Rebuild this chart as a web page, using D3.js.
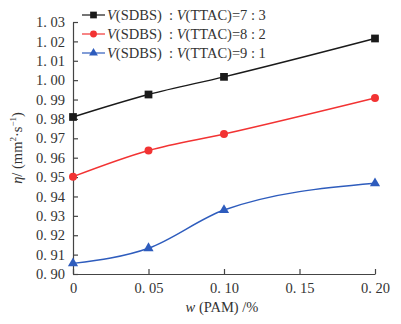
<!DOCTYPE html>
<html><head><meta charset="utf-8">
<script src="https://cdn.jsdelivr.net/npm/d3@7"></script>
<style>body{margin:0;background:#fff}svg{display:block}text{font-family:"Liberation Serif","DejaVu Serif",serif;fill:#333}</style>
</head><body><div id="c"></div>
<script>
const xValues = [0, 0.05, 0.10, 0.20];
const seriesNames = ["7\u00a0:\u00a03", "8\u00a0:\u00a02", "9\u00a0:\u00a01"];
const blackValues = [0.981, 0.9926, 1.0017, 1.0215];
const redValues = [0.9502, 0.9637, 0.9722, 0.9908];
const blueValues = [0.9055, 0.9133, 0.9330, 0.9468];
const xTicks = [0, 0.05, 0.10, 0.15, 0.20];
const xTickLabels = ["0", "0. 05", "0. 10", "0. 15", "0. 20"];
const yTicks = [0.90,0.91,0.92,0.93,0.94,0.95,0.96,0.97,0.98,0.99,1.00,1.01,1.02,1.03];
const yTickLabels = ["0. 90","0. 91","0. 92","0. 93","0. 94","0. 95","0. 96","0. 97","0. 98","0. 99","1. 00","1. 01","1. 02","1. 03"];

const W = 401, H = 324;
const m = {l: 73, r: 26, t: 22, b: 50};
const svg = d3.select("#c").append("svg").attr("width", W).attr("height", H);
const x = d3.scaleLinear().domain([0, 0.20]).range([m.l, W - m.r]);
const y = d3.scaleLinear().domain([0.90, 1.03]).range([H - m.b, m.t]);

const series = [
  {vals: blackValues, color: "#1a1a1a", shape: d3.symbolSquare, size: 60},
  {vals: redValues, color: "#f23333", shape: d3.symbolCircle, size: 50},
  {vals: blueValues, color: "#2e5cbd", shape: d3.symbolTriangle, size: 45}
];

// axes
const xAxis = d3.axisBottom(x).tickValues(xTicks).tickFormat((d,i)=>xTickLabels[i]).tickSizeInner(-5).tickSizeOuter(0).tickPadding(9);
const yAxis = d3.axisLeft(y).tickValues(yTicks).tickFormat((d,i)=>yTickLabels[i]).tickSizeInner(-5).tickSizeOuter(0).tickPadding(8);
const gx = svg.append("g").attr("transform", `translate(0,${H - m.b})`).call(xAxis);
const gy = svg.append("g").attr("transform", `translate(${m.l},0)`).call(yAxis);
[gx, gy].forEach(g => {
  g.selectAll("path,line").attr("stroke", "#444").attr("stroke-width", 1.2);
  g.selectAll("text").attr("font-size", 14.5).attr("fill", "#333").attr("font-family", '"Liberation Serif",serif');
});

const line = d3.line().x((d,i)=>x(xValues[i])).y(d=>y(d)).curve(d3.curveMonotoneX);
series.forEach(s => {
  svg.append("path").attr("d", line(s.vals)).attr("fill","none").attr("stroke", s.color).attr("stroke-width", 1.4);
  svg.selectAll(null).data(s.vals).enter().append("path")
    .attr("d", d3.symbol().type(s.shape).size(s.size))
    .attr("transform", (d,i)=>`translate(${x(xValues[i])},${y(d)})`)
    .attr("fill", s.color);
});

// legend
const lg = svg.append("g");
series.forEach((s, i) => {
  const yy = 15 + i * 19;
  lg.append("line").attr("x1", 82).attr("x2", 105).attr("y1", yy).attr("y2", yy).attr("stroke", s.color).attr("stroke-width", 1.2);
  lg.append("path").attr("d", d3.symbol().type(s.shape).size(s.size*0.75)).attr("transform", `translate(93.5,${yy})`).attr("fill", s.color);
  const t = lg.append("text").attr("x", 107).attr("y", yy + 5).attr("font-size", 14.5);
  t.append("tspan").attr("font-style","italic").text("V");
  t.append("tspan").text("(SDBS)\u00a0\u00a0:\u00a0");
  t.append("tspan").attr("font-style","italic").text("V");
  t.append("tspan").text("(TTAC)=" + seriesNames[i]);
});

// axis titles
const xt = svg.append("text").attr("x", 222).attr("y", 312).attr("text-anchor","middle").attr("font-size", 14.5);
xt.append("tspan").attr("font-style","italic").text("w");
xt.append("tspan").text("\u00a0(PAM)\u00a0/%");
const yt = svg.append("text").attr("transform", "translate(22,148) rotate(-90)").attr("text-anchor","middle").attr("font-size", 14.5);
yt.append("tspan").attr("font-style","italic").text("η");
yt.append("tspan").text("/\u00a0(mm");
yt.append("tspan").attr("font-size", 9).attr("dy", -6).text("2");
yt.append("tspan").attr("dy", 6).text("·s");
yt.append("tspan").attr("font-size", 9).attr("dy", -6).text("−1");
yt.append("tspan").attr("dy", 6).text(")");
</script></body></html>
